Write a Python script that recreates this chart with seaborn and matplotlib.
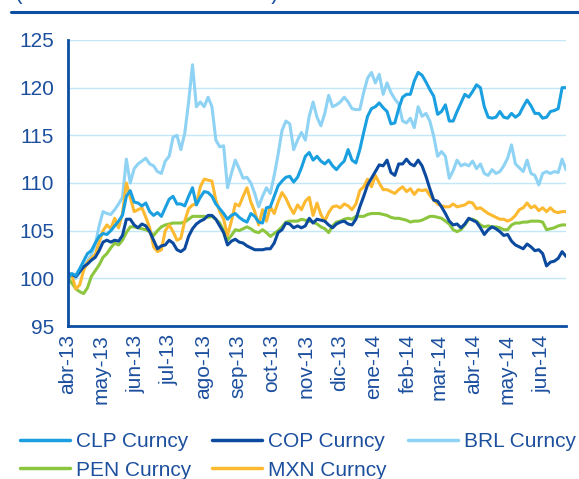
import pandas as pd
import matplotlib
matplotlib.use('Agg')
import matplotlib.pyplot as plt
from matplotlib.lines import Line2D
import seaborn as sns

# Datos, cada 3,5 dias (base 100 = abr-13)
fechas = pd.date_range('2013-04-01', periods=129, freq='84h')

clp = [100.0, 100.5, 100.3, 101.0, 101.8, 102.6, 102.9, 103.7, 104.4, 104.7,
       104.6, 105.0, 105.5, 106.0, 106.6, 108.6, 109.2, 108.0, 107.9, 107.6,
       107.9, 107.0, 106.6, 106.9, 106.5, 107.4, 108.3, 108.6, 107.8, 107.8,
       107.6, 108.6, 109.5, 107.7, 108.5, 109.1, 109.0, 108.6, 107.8, 107.3,
       106.8, 106.2, 106.6, 106.8, 106.4, 106.1, 105.9, 106.8, 106.5, 105.9,
       105.8, 107.4, 107.5, 108.6, 109.7, 110.2, 110.6, 110.7, 110.1, 110.6,
       111.6, 112.8, 113.2, 112.4, 112.8, 112.3, 112.0, 112.4, 111.8, 111.4,
       111.9, 112.3, 113.5, 112.4, 112.1, 113.5, 115.3, 117.0, 117.8, 118.0,
       118.4, 117.9, 117.5, 116.2, 116.3, 117.8, 119.0, 119.3, 119.3, 120.7,
       121.6, 121.3, 120.6, 119.8, 119.1, 117.2, 117.5, 118.2, 116.5, 116.5,
       117.5, 118.4, 119.3, 119.0, 119.6, 120.3, 120.0, 118.0, 116.9, 116.8,
       116.9, 117.5, 116.9, 116.8, 117.3, 116.9, 117.2, 118.0, 118.7, 118.1,
       117.3, 117.3, 116.8, 116.9, 117.5, 117.6, 117.8, 120.0, 120.0]

cop = [100.5, 100.4, 100.2, 100.7, 101.2, 101.5, 101.9, 102.2, 102.9, 103.8,
       104.0, 103.8, 104.0, 103.9, 104.5, 106.2, 106.2, 105.6, 105.3, 105.7,
       105.5, 104.9, 104.0, 103.1, 103.4, 103.5, 104.0, 103.7, 103.0, 102.8,
       103.1, 104.4, 105.2, 105.7, 106.0, 106.2, 106.6, 106.6, 106.2, 105.5,
       104.8, 103.5, 103.9, 104.1, 103.8, 103.7, 103.4, 103.2, 103.0, 103.0,
       103.0, 103.1, 103.1, 103.7, 104.8, 105.1, 105.8, 105.7, 105.3, 105.5,
       105.3, 105.5, 106.3, 105.8, 106.2, 106.1, 106.0, 105.6, 105.3, 105.7,
       105.9, 106.0, 105.7, 105.6, 106.2, 107.5, 108.6, 109.8, 110.5, 111.2,
       111.9, 111.8, 112.4, 111.1, 110.8, 112.0, 112.0, 112.5, 112.0, 111.8,
       112.4, 111.8, 110.7, 109.4, 108.2, 108.1, 107.5, 106.8, 106.0, 105.6,
       105.7, 105.3, 105.7, 106.3, 106.1, 105.9, 105.3, 104.6, 105.1, 105.4,
       105.2, 104.9, 104.5, 104.6, 103.9, 103.5, 103.3, 103.1, 103.6, 103.3,
       102.9, 103.0, 102.6, 101.3, 101.7, 101.8, 102.1, 102.8, 102.3]

brl = [100.0, 100.3, 100.0, 100.6, 101.2, 101.8, 102.5, 103.5, 105.5, 107.0,
       106.8, 106.7, 107.2, 107.8, 108.5, 112.5, 110.0, 111.5, 112.0, 112.3,
       112.6, 112.0, 111.8, 111.2, 111.0, 112.3, 112.8, 114.8, 115.0, 113.5,
       115.2, 118.5, 122.4, 118.0, 118.5, 118.0, 119.0, 118.0, 114.5, 113.8,
       113.9, 109.5, 111.0, 112.4, 111.5, 110.5, 110.6, 110.0, 108.9, 107.5,
       108.6, 109.5, 108.9, 110.8, 113.0, 115.5, 116.5, 116.2, 113.5, 114.5,
       115.3, 114.5, 117.0, 118.5, 116.9, 116.0, 117.3, 119.2, 118.0, 118.2,
       118.5, 119.0, 118.5, 117.8, 117.7, 117.7, 119.5, 121.0, 121.6, 120.5,
       121.4, 119.3, 120.5, 119.5, 118.8, 118.3, 116.5, 116.3, 116.8, 115.8,
       118.0, 117.0, 117.3, 116.5, 114.9, 112.8, 113.3, 112.8, 110.5, 111.3,
       112.4, 111.8, 112.0, 111.8, 112.3, 111.5, 112.0, 111.0, 110.8, 111.4,
       111.0, 111.2, 111.8, 112.6, 114.0, 112.0, 111.6, 111.2, 112.4, 111.0,
       110.8, 109.8, 111.0, 111.2, 111.0, 111.2, 111.1, 112.5, 111.4]

pen = [100.0, 99.5, 98.9, 98.6, 98.4, 99.0, 100.2, 100.8, 101.4, 102.2,
       102.6, 103.2, 103.7, 103.5, 104.0, 104.8, 105.4, 105.4, 105.3, 105.2,
       105.1, 104.9, 104.5, 105.0, 105.4, 105.6, 105.7, 105.8, 105.8, 105.8,
       105.9, 106.2, 106.5, 106.5, 106.5, 106.5, 106.4, 106.5, 106.2, 105.8,
       105.0, 104.0, 104.5, 105.1, 105.0, 105.2, 105.4, 105.2, 104.9, 104.8,
       105.1, 104.8, 104.4, 104.7, 105.0, 105.4, 105.9, 106.0, 106.0, 106.0,
       106.2, 106.1, 106.0, 105.9, 105.7, 105.4, 105.2, 104.8, 105.5, 105.9,
       106.0, 106.2, 106.3, 106.2, 106.5, 106.5, 106.5, 106.7, 106.8, 106.8,
       106.8, 106.7, 106.6, 106.4, 106.3, 106.3, 106.2, 106.1, 105.9, 106.0,
       106.0, 106.1, 106.3, 106.5, 106.5, 106.4, 106.3, 106.0, 105.7, 105.1,
       104.9, 105.1, 105.6, 106.2, 106.2, 106.0, 105.6, 105.4, 105.5, 105.4,
       105.4, 105.3, 105.1, 105.1, 105.6, 105.8, 105.8, 105.9, 105.9, 106.0,
       106.0, 106.0, 105.9, 105.1, 105.2, 105.3, 105.5, 105.6, 105.6]

mxn = [100.0, 100.3, 98.9, 99.3, 100.8, 101.7, 102.1, 102.5, 103.8, 105.0,
       105.6, 105.2, 106.3, 105.3, 106.8, 110.0, 108.5, 107.0, 107.2, 107.4,
       106.4, 105.3, 103.3, 102.8, 103.0, 105.0, 105.6, 104.9, 104.0, 104.2,
       106.0, 107.3, 107.7, 107.8, 109.6, 110.4, 110.3, 110.2, 108.2, 107.0,
       106.2, 104.5, 106.0, 107.8, 107.6, 108.6, 109.5, 108.0, 107.0, 105.6,
       107.2, 106.0, 107.5, 106.8, 108.0, 109.0, 108.4, 107.5, 106.8, 107.7,
       107.2, 108.1, 108.5, 106.6, 107.9, 106.7, 106.0, 106.9, 107.5, 107.6,
       107.4, 107.8, 107.6, 107.2, 107.8, 109.2, 109.6, 110.4, 109.6, 110.8,
       110.0, 109.3, 109.3, 109.1, 108.9, 109.3, 109.6, 109.1, 109.4, 108.8,
       109.3, 109.2, 109.3, 108.7, 108.2, 107.8, 107.6, 107.5, 107.5, 107.8,
       107.5, 107.6, 107.7, 108.0, 107.9, 107.3, 107.4, 107.1, 106.8, 106.6,
       106.4, 106.2, 106.2, 106.0, 106.2, 106.6, 107.2, 107.4, 107.9, 107.4,
       107.6, 107.1, 107.4, 107.0, 107.4, 107.0, 106.9, 107.0, 107.0]

series = ['CLP Curncy', 'COP Curncy', 'BRL Curncy', 'PEN Curncy', 'MXN Curncy']
colores = ['#1A9FE0', '#0B4A9E', '#8ED2F4', '#8CC63E', '#FDB930']
meses = ['abr-13', 'may-13', 'jun-13', 'jul-13', 'ago-13', 'sep-13', 'oct-13',
         'nov-13', 'dic-13', 'ene-14', 'feb-14', 'mar-14', 'abr-14', 'may-14',
         'jun-14']

df = pd.DataFrame({'fecha': fechas, 'CLP Curncy': clp, 'COP Curncy': cop,
                   'BRL Curncy': brl, 'PEN Curncy': pen, 'MXN Curncy': mxn})
df_largo = df.melt(id_vars='fecha', var_name='serie', value_name='valor')

azul_txt = '#1C4F9E'
azul_eje = '#0B4EA2'

sns.set_theme(style='white')
plt.rcParams['font.family'] = ['Liberation Sans', 'DejaVu Sans']

fig = plt.figure(figsize=(5.79, 4.79), dpi=100)
ax = fig.add_axes([68 / 579, 1 - 326 / 479, 498 / 579, 286 / 479])

# orden de dibujo: BRL abajo, luego el resto
orden = ['BRL Curncy', 'PEN Curncy', 'MXN Curncy', 'COP Curncy', 'CLP Curncy']
paleta = dict(zip(series, colores))
for s in orden:
    sns.lineplot(data=df_largo[df_largo['serie'] == s], x='fecha', y='valor',
                 color=paleta[s], linewidth=2.2, ax=ax, legend=False)

ax.set_ylim(95, 125)
ax.set_yticks([95, 100, 105, 110, 115, 120, 125])
ax.set_xlim(pd.Timestamp('2013-04-01'), pd.Timestamp('2014-06-23'))
ticks = pd.date_range('2013-04-01', periods=len(meses), freq='MS')
ax.set_xticks(ticks)
ax.set_xticklabels(meses, rotation=90)
ax.set_xlabel('')
ax.set_ylabel('')

ax.grid(axis='y', color='#C3E7F7', linewidth=1.0)
ax.grid(axis='x', visible=False)
for lado in ['top', 'right']:
    ax.spines[lado].set_visible(False)
for lado in ['left', 'bottom']:
    ax.spines[lado].set_color(azul_eje)
    ax.spines[lado].set_linewidth(2.0)
ax.tick_params(axis='both', direction='inout', length=8, width=1.8,
               color=azul_eje, labelcolor=azul_txt, labelsize=15, pad=2)
ax.tick_params(axis='y', pad=6)

# leyenda por filas: CLP, COP, BRL / PEN, MXN
orden_ley = [0, 3, 1, 4, 2]
handles = [Line2D([0], [0], color=colores[i], linewidth=2.5) for i in orden_ley]
etiquetas = [series[i] for i in orden_ley]
fig.legend(handles, etiquetas, loc='upper left', bbox_to_anchor=(0.02, 1 - 424 / 479),
           ncol=3, frameon=False, fontsize=15, labelcolor=azul_txt,
           handlelength=2.4, handletextpad=0.3, columnspacing=1.0,
           labelspacing=0.45, borderaxespad=0)

# titulo recortado y linea superior
fig.add_artist(Line2D([11 / 579, 1], [1 - 12 / 479, 1 - 12 / 479],
                      color=azul_eje, linewidth=2.2))
fig.text(15 / 579, 1 + 1.5 / 479, '(Índice 1 abril 2013 = 100)',
         fontsize=16.3, color=azul_txt, va='baseline', ha='left')

fig.savefig('out.png', dpi=100)
